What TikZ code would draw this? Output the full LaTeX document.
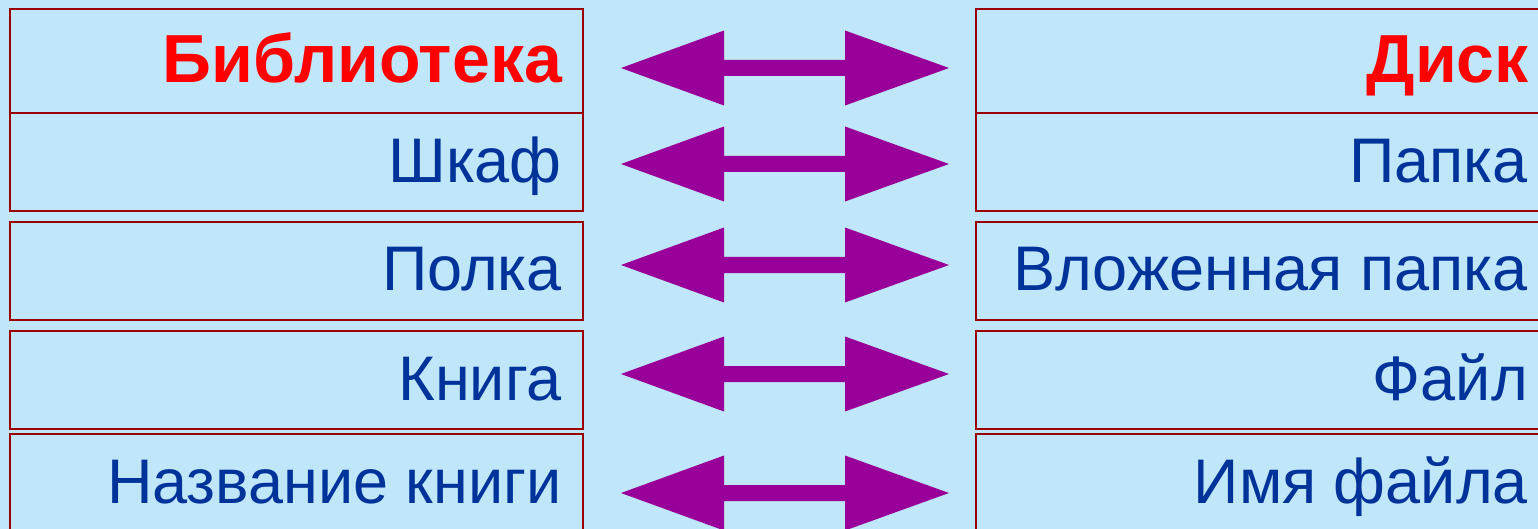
\documentclass[tikz,border=0pt]{standalone}
\usepackage{fontspec}
\setmainfont{Liberation Sans}
\definecolor{bgc}{HTML}{C0E6FA}
\definecolor{brd}{HTML}{9A0000}
\definecolor{txtb}{HTML}{003399}
\definecolor{txtr}{HTML}{FF0000}
\definecolor{arr}{HTML}{990099}
\tikzset{
  cell/.style={draw=brd, line width=2.6pt, fill=bgc, inner sep=0pt},
  lbl/.style={anchor=base east, inner sep=0pt, text=txtb, font=\fontsize{63}{70}\selectfont},
  ttl/.style={anchor=base east, inner sep=0pt, text=txtr, font=\fontsize{68}{76}\selectfont\bfseries},
  twoarrow/.style={fill=arr, draw=none}
}
\begin{document}
\begin{tikzpicture}[x=1pt,y=-1pt]
\clip (0,0) rectangle (1538,529);
\fill[bgc] (0,0) rectangle (1538,529);
% left boxes
\draw[cell] (10,9) rectangle (583,113);
\draw[cell] (10,113) rectangle (583,211);
\draw[cell] (10,222) rectangle (583,320);
\draw[cell] (10,331) rectangle (583,429);
\draw[cell] (10,434) rectangle (583,560);
% right boxes
\draw[cell] (976,9) rectangle (1570,113);
\draw[cell] (976,113) rectangle (1570,211);
\draw[cell] (976,222) rectangle (1570,320);
\draw[cell] (976,331) rectangle (1570,429);
\draw[cell] (976,434) rectangle (1570,560);
% texts
\node[ttl] (l1) at (562,83) {Библиотека};
\node[lbl] (l2) at (562,183) {Шкаф};
\node[lbl] (l3) at (562,290) {Полка};
\node[lbl] (l4) at (562,400) {Книга};
\node[lbl] (l5) at (562,503) {Название книги};
\node[ttl] (r1) at (1529,83) {Диск};
\node[lbl] (r2) at (1528,183) {Папка};
\node[lbl] (r3) at (1528,290) {Вложенная папка};
\node[lbl] (r4) at (1528,400) {Файл};
\node[lbl] (r5) at (1528,503) {Имя файла};
% arrows
\foreach \c in {68,164,265,374,493}{
  \fill[twoarrow] (621,\c) -- (724,\c-37.5) -- (724,\c-8) -- (845,\c-8) -- (845,\c-37.5)
    -- (949,\c) -- (845,\c+37.5) -- (845,\c+8) -- (724,\c+8) -- (724,\c+37.5) -- cycle;
}
\end{tikzpicture}
\end{document}
